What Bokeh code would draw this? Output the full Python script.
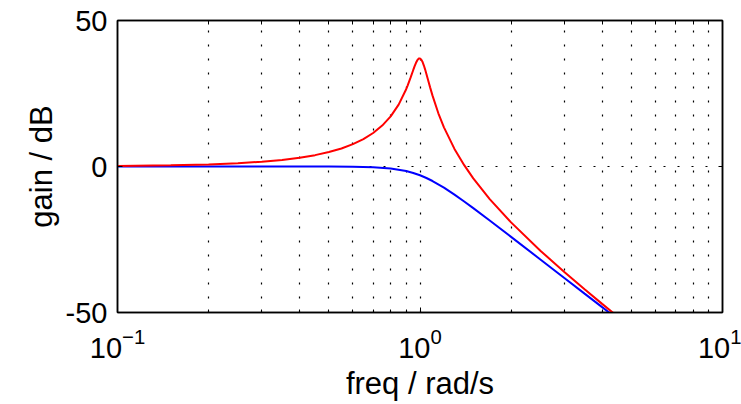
from bokeh.plotting import figure
from bokeh.models import LogAxis, LinearAxis, FixedTicker, Range1d, LogTickFormatter
from bokeh.embed import file_html
from bokeh.resources import INLINE

# ---- data ----
red_freq = [0.1, 0.15, 0.2, 0.25, 0.3, 0.35, 0.4, 0.45, 0.5, 0.55, 0.6, 0.65, 0.7,
            0.75, 0.8, 0.85, 0.9, 0.91, 0.93, 0.95, 0.96, 0.97, 0.98, 0.99, 1.0,
            1.01, 1.02, 1.03, 1.04, 1.05, 1.06, 1.08, 1.1, 1.15, 1.2, 1.3, 1.4,
            1.5, 1.7, 2.0, 2.5, 3.0, 3.5, 4.0, 4.5]
red_gain = [0.17, 0.39, 0.70, 1.11, 1.63, 2.25, 3.00, 3.89, 4.94, 6.18, 7.65, 9.38, 11.47,
            14.01, 17.16, 21.19, 26.46, 27.70, 30.33, 33.06, 34.36, 35.51, 36.41, 36.95, 37.02,
            36.60, 35.76, 34.58, 33.19, 31.68, 30.14, 27.10, 24.27, 18.23, 13.40, 6.02, 0.45,
            -4.05, -11.16, -19.14, -28.83, -36.14, -42.06, -47.05, -51.38]

blue_freq = [0.1, 0.2, 0.3, 0.4, 0.5, 0.6, 0.7, 0.8, 0.9, 0.95, 1.0, 1.05, 1.1, 1.2,
             1.3, 1.4, 1.5, 1.7, 2.0, 2.5, 3.0, 3.5, 4.0, 4.5]
blue_gain = [0.0, 0.0, 0.0, -0.003, -0.017, -0.072, -0.24, -0.67, -1.55, -2.21, -3.01, -3.94,
             -4.97, -7.24, -9.62, -11.97, -14.25, -18.50, -24.10, -31.84, -38.17, -43.53,
             -48.16, -52.26]

x_limits = (0.1, 10)
y_limits = (-50, 50)
x_ticks = [0.1, 1, 10]
x_minor = [0.2, 0.3, 0.4, 0.5, 0.6, 0.7, 0.8, 0.9, 2, 3, 4, 5, 6, 7, 8, 9]
y_ticks = [-50, 0, 50]
y_tick_labels = {-50: "-50", 0: "0", 50: "50"}
x_title = "freq / rad/s"
y_title = "gain / dB"

FONT = "Liberation Sans"

p = figure(width=741, height=404, x_axis_type="log",
           x_range=Range1d(*x_limits), y_range=Range1d(*y_limits),
           output_backend="svg", toolbar_location=None,
           min_border_left=117, min_border_right=19, min_border_top=20,
           min_border_bottom=92)
p.background_fill_color = "white"
p.border_fill_color = "white"
p.outline_line_color = "black"
p.outline_line_width = 1.5

# main axes
xa = p.xaxis[0]
xa.ticker = FixedTicker(ticks=x_ticks, minor_ticks=x_minor)
xa.formatter = LogTickFormatter()
xa.axis_label = x_title
ya = p.yaxis[0]
ya.ticker = FixedTicker(ticks=y_ticks)
ya.major_label_overrides = y_tick_labels
ya.axis_label = y_title

for ax in (xa, ya):
    ax.axis_line_color = "black"
    ax.axis_line_width = 1.5
    ax.major_tick_in = 5
    ax.major_tick_out = 0
    ax.minor_tick_in = 3
    ax.minor_tick_out = 0
    ax.major_tick_line_color = "black"
    ax.minor_tick_line_color = "black"
    ax.major_label_text_font = FONT
    ax.major_label_text_font_size = "29px"
    ax.major_label_text_color = "black"
    ax.axis_label_text_font = FONT
    ax.axis_label_text_font_size = "31px"
    ax.axis_label_text_font_style = "normal"
    ax.axis_label_text_color = "black"

ya.minor_tick_line_color = None
xa.major_label_standoff = 15
xa.axis_label_standoff = 5
ya.major_label_standoff = 10
ya.axis_label_standoff = 4

# top and right axes (ticks only, no labels)
top = LogAxis(ticker=FixedTicker(ticks=[], minor_ticks=x_minor + [1]))
right = LinearAxis(ticker=FixedTicker(ticks=[], minor_ticks=[0]))
for ax in (top, right):
    ax.axis_line_color = "black"
    ax.axis_line_width = 1.5
    ax.major_tick_in = 0
    ax.major_tick_out = 0
    ax.minor_tick_in = 4
    ax.minor_tick_out = 0
    ax.minor_tick_line_color = "black"
    ax.major_label_standoff = 0
p.add_layout(top, "above")
p.add_layout(right, "right")

# dotted grids
p.xgrid.ticker = FixedTicker(ticks=x_ticks, minor_ticks=x_minor)
p.xgrid.grid_line_color = "black"
p.xgrid.grid_line_dash = "2 12"
p.xgrid.grid_line_width = 1.2
p.xgrid.minor_grid_line_color = "black"
p.xgrid.minor_grid_line_dash = "2 12"
p.xgrid.minor_grid_line_width = 1.2
p.ygrid.ticker = FixedTicker(ticks=y_ticks)
p.ygrid.grid_line_color = "black"
p.ygrid.grid_line_dash = "2 12"
p.ygrid.grid_line_width = 1.2

p.line(blue_freq, blue_gain, line_color="#0000ff", line_width=2)
p.line(red_freq, red_gain, line_color="#ff0000", line_width=2)

open("out.html", "w").write(file_html(p, INLINE))
